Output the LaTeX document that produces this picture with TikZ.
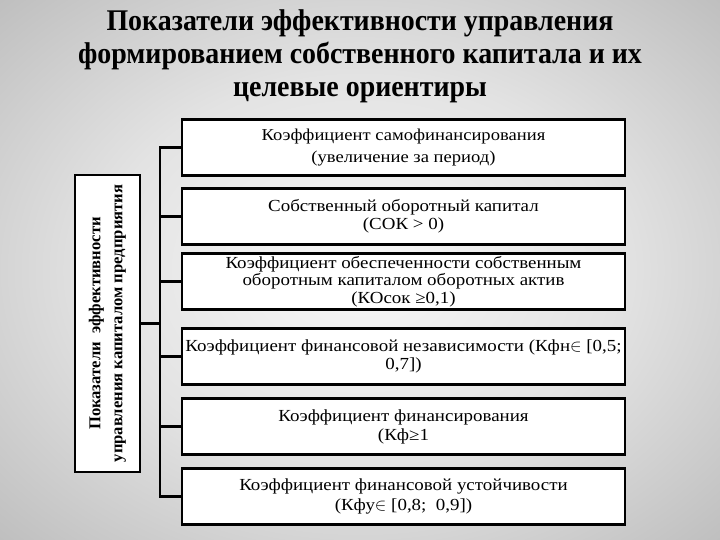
\documentclass[tikz,border=0pt]{standalone}
\usepackage{fontspec}
\setmainfont{Liberation Serif}
\newfontfamily\titlefont[FakeStretch=0.93]{Liberation Serif}
\newfontfamily\boxfont[FakeStretch=1.12]{Liberation Serif}
\pgfdeclareradialshading{bgshade}{\pgfpoint{0bp}{0bp}}{%
  color(0bp)=(black!3); color(18bp)=(black!11); color(50bp)=(black!37); color(71bp)=(black!56)}
\tikzset{
  mbox/.style={draw=black, line width=2.9pt, fill=white, minimum width=443pt,
    minimum height=56pt, align=center, inner sep=0pt, font=\boxfont\fontsize{16.9}{17.5}\selectfont},
  sidebox/.style={draw=black, line width=2.9pt, fill=white, minimum width=297pt,
    minimum height=65pt, align=center, rotate=90, inner sep=1pt,
    font=\bfseries\fontsize{16.6}{22}\selectfont},
  conn/.style={draw=black, line width=2.4pt},
  ttl/.style={align=center, font=\titlefont\bfseries\fontsize{30}{33}\selectfont}
}
\begin{document}
\begin{tikzpicture}[x=1pt,y=-1pt]
\useasboundingbox (0,0) rectangle (720,540);
\shade[shading=bgshade] (0,0) rectangle (720,540);
\node[ttl] (title) at (360,56) {Показатели эффективности управления\\формированием собственного капитала и их\\целевые ориентиры};
\node[sidebox] (lb) at (107.5,323.5) {Показатели\ \ эффективности\\управления капиталом предприятия};
\node[mbox, font=\boxfont\fontsize{16.6}{22}\selectfont] (b1) at (403.5,147.5) {Коэффициент самофинансирования\\(увеличение за период)};
\node[mbox] (b2) at (403.5,216.5) {Собственный оборотный капитал\\(СОК > 0)};
\node[mbox] (b3) at (403.5,281.5) {Коэффициент обеспеченности собственным\\оборотным капиталом оборотных актив\\(КОсок ≥0,1)};
\node[mbox, font=\boxfont\fontsize{16.9}{18.5}\selectfont] (b4) at (403.5,356.5) {Коэффициент финансовой независимости (Кфн$\in$ [0,5;\\0,7])};
\node[mbox, font=\boxfont\fontsize{16.9}{19}\selectfont] (b5) at (403.5,426.5) {Коэффициент финансирования\\(Кф≥1};
\node[mbox, font=\boxfont\fontsize{16.9}{19.5}\selectfont] (b6) at (403.5,496.5) {Коэффициент финансовой устойчивости\\(Кфу$\in$ [0,8;\ \ 0,9])};
\coordinate (tr) at (160,0);
\draw[conn] (b1.west) -| (tr |- b6.west) -- (b6.west);
\foreach \b in {b2,b3,b4,b5} { \draw[conn] (\b.west) -- (\b.west -| tr); }
\draw[conn] (lb.south) -- (lb.south -| tr);
\end{tikzpicture}
\end{document}
